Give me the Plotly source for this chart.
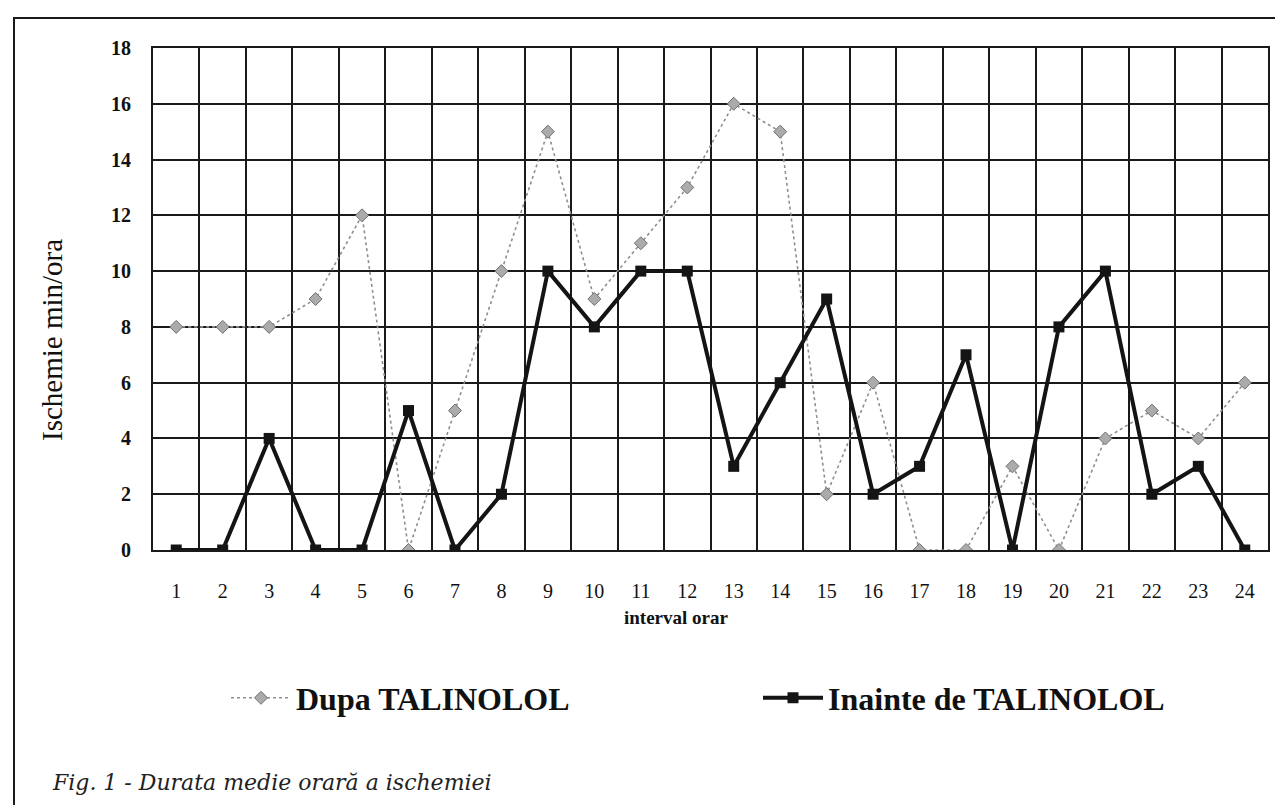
import plotly.graph_objects as go

categories = [str(i) for i in range(1, 25)]
dupa = [8, 8, 8, 9, 12, 0, 5, 10, 15, 9, 11, 13, 16, 15, 2, 6, 0, 0, 3, 0, 4, 5, 4, 6]
inainte = [0, 0, 4, 0, 0, 5, 0, 2, 10, 8, 10, 10, 3, 6, 9, 2, 3, 7, 0, 8, 10, 2, 3, 0]
y_ticks = list(range(0, 19, 2))

W, H = 1283, 805
L, R, T, B = 145, 1260, 40, 542
pw, ph = R - L, B - T


def px(x):
    return (x - L) / pw


def py(y):
    return (B - y) / ph


SERIF = "Liberation Serif, Times New Roman, serif"
LEG_Y = 690

fig = go.Figure()
fig.add_trace(go.Scatter(
    x=categories, y=dupa, mode="lines+markers", name="Dupa TALINOLOL",
    legend="legend",
    line=dict(color="#8f8f8f", width=1.6, dash="dot"),
    marker=dict(symbol="diamond", size=10, color="#ababab",
                line=dict(color="#707070", width=1)),
))
fig.add_trace(go.Scatter(
    x=categories, y=inainte, mode="lines+markers", name="Inainte de TALINOLOL",
    legend="legend2",
    line=dict(color="#141414", width=4),
    marker=dict(symbol="square", size=11, color="#141414"),
))

leg_common = dict(orientation="h", xanchor="left", yanchor="middle",
                  y=-(LEG_Y - B) / ph, itemwidth=60,
                  font=dict(family=SERIF, size=32, weight="bold", color="#111"),
                  bgcolor="rgba(0,0,0,0)")

fig.update_layout(
    width=W, height=H, autosize=False,
    margin=dict(l=L, r=W - R, t=T, b=H - B),
    paper_bgcolor="white", plot_bgcolor="white",
    font=dict(family=SERIF, color="#111"),
    showlegend=True,
    legend=dict(x=px(218), **leg_common),
    legend2=dict(x=px(750), **leg_common),
    xaxis=dict(type="category", tickson="boundaries", range=[-0.5, 23.5],
               showgrid=True, gridcolor="#1a1a1a", gridwidth=2,
               showline=True, mirror=True, linecolor="#1a1a1a", linewidth=2,
               ticks="", zeroline=False,
               tickfont=dict(family=SERIF, size=20, color="#111"),
               ticklabelstandoff=22),
    yaxis=dict(range=[0, 18], tickvals=y_ticks, showgrid=True,
               gridcolor="#1a1a1a", gridwidth=2, showline=True, mirror=True,
               linecolor="#1a1a1a", linewidth=2, ticks="", zeroline=False,
               tickfont=dict(family=SERIF, size=20, weight="bold", color="#111"),
               ticklabelstandoff=16),
    annotations=[
        dict(text="interval orar", xref="paper", yref="paper",
             x=px(668), y=-(610 - B) / ph, xanchor="center", yanchor="middle",
             showarrow=False, font=dict(family=SERIF, size=19, weight="bold", color="#111")),
        dict(text="Ischemie min/ora", xref="paper", yref="paper",
             x=px(44), y=py(332), xanchor="center", yanchor="middle", textangle=-90,
             showarrow=False, font=dict(family=SERIF, size=29, color="#111")),
        dict(text="<i>Fig. 1 - Durata medie orară a ischemiei</i>", xref="paper", yref="paper",
             x=px(42), y=-(774 - B) / ph, xanchor="left", yanchor="middle",
             showarrow=False, font=dict(family="DejaVu Serif, serif", size=22, color="#222")),
    ],
    shapes=[
        dict(type="rect", xref="paper", yref="paper",
             x0=px(6), x1=px(1276), y0=-(840 - B) / ph, y1=py(10),
             line=dict(color="#1a1a1a", width=2), fillcolor="rgba(0,0,0,0)", layer="below"),
    ],
)

fig.write_html("out.html")
